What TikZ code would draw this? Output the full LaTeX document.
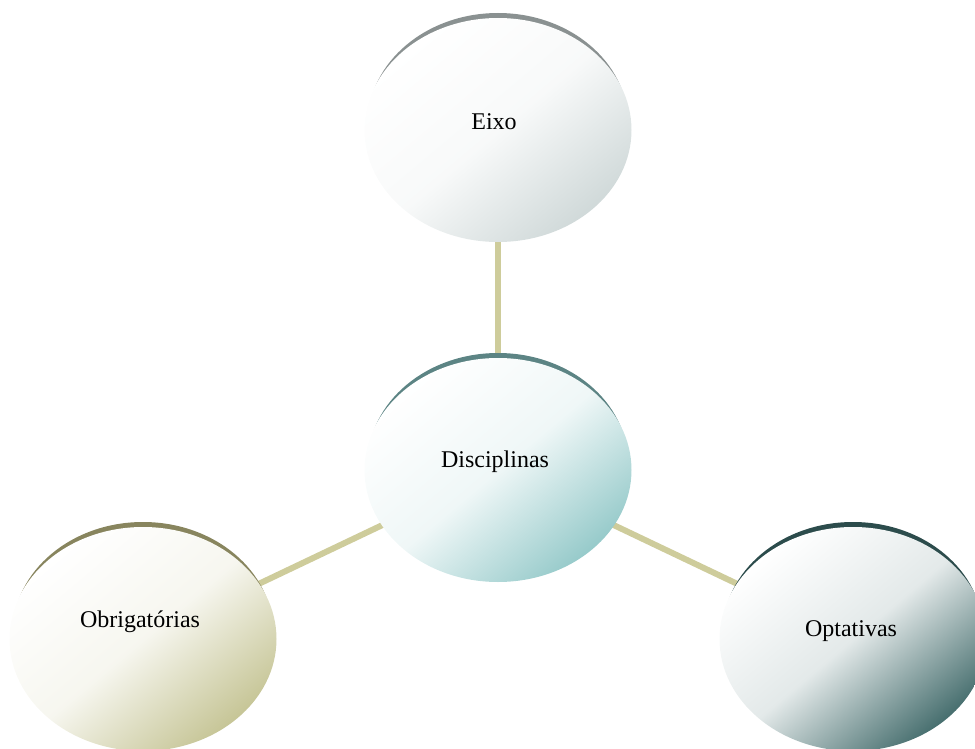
\documentclass[tikz,border=0pt]{standalone}
\usepackage{fontspec}
\setmainfont{Liberation Serif}
\usetikzlibrary{shapes.geometric,backgrounds}
\definecolor{eixofill}{RGB}{208,217,217}
\definecolor{eixorim}{RGB}{138,145,145}
\definecolor{discfill}{RGB}{150,202,202}
\definecolor{discrim}{RGB}{92,132,132}
\definecolor{obrigfill}{RGB}{198,197,150}
\definecolor{obrigrim}{RGB}{136,133,94}
\definecolor{optfill}{RGB}{70,110,110}
\definecolor{optrim}{RGB}{44,76,76}
\definecolor{linkcol}{RGB}{206,204,155}

\begin{document}
\begin{tikzpicture}[x=1pt,y=-1pt,
    font=\fontsize{24}{28}\selectfont,
    bubble/.style={ellipse, minimum width=267pt, minimum height=224pt,
      inner sep=0pt,
      top color=white, bottom color=#1, middle color=white!85!#1,
      shading angle=40},
    link/.style={line width=6pt, linkcol}]
    \useasboundingbox (0,0) rectangle (975,749);
    \node[bubble=eixofill,
      label={[xshift=-4pt,yshift=8pt]center:Eixo}] (eixo) at (498,130) {};
    \node[bubble=discfill,
      label={[xshift=-3pt,yshift=8pt]center:Disciplinas}] (disc) at (498,470) {};
    \node[bubble=obrigfill,
      label={[xshift=-3pt,yshift=17pt]center:Obrigatórias}] (obrig) at (143,639) {};
    \node[bubble=optfill,
      label={[xshift=-2pt,yshift=8pt]center:Optativas}] (opt) at (853,639) {};
    \begin{scope}[on background layer]
        \draw[link] (eixo.center) -- (disc.center);
        \draw[link] (disc.center) -- (obrig.center);
        \draw[link] (disc.center) -- (opt.center);
        % dark rims peeking out above each bubble
        \foreach \n/\c in {eixo/eixorim, disc/discrim, obrig/obrigrim, opt/optrim}
            \fill[\c] ([yshift=7pt]\n.center) ellipse [x radius=130, y radius=110];
    \end{scope}
\end{tikzpicture}
\end{document}
